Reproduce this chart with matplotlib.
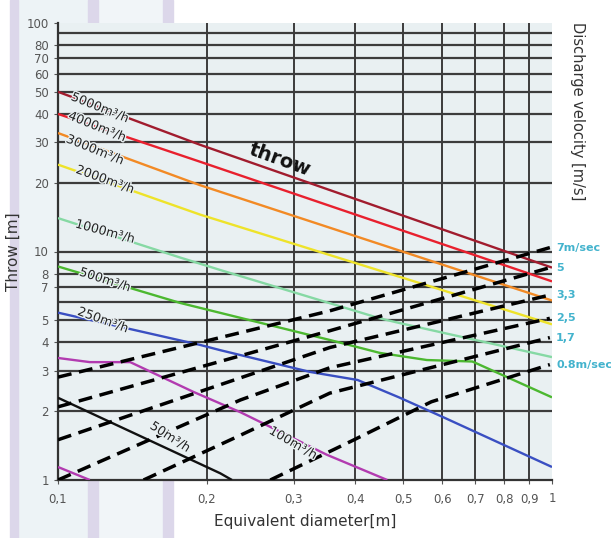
import matplotlib
matplotlib.use("Agg")
import matplotlib.pyplot as plt
import matplotlib.patheffects as pe
from matplotlib.patches import Rectangle

# --- données ---
# courbes de portée (débit en m3/h)
d_5000 = [0.1, 0.194, 1.0]
t_5000 = [50, 29.3, 8.5]
d_4000 = [0.1, 0.194, 1.0]
t_4000 = [40, 24.7, 7.4]
d_3000 = [0.1, 0.194, 1.0]
t_3000 = [33, 19.5, 6.1]
d_2000 = [0.1, 0.194, 1.0]
t_2000 = [24, 14.5, 4.8]
d_1000 = [0.1, 0.177, 0.213, 0.448, 0.49, 1.0]
t_1000 = [14, 9.4, 8.3, 5.1, 4.87, 3.45]
d_500 = [0.1, 0.177, 0.355, 0.448, 0.558, 0.69, 1.0]
t_500 = [8.6, 5.95, 4.1, 3.6, 3.35, 3.3, 2.3]
d_250 = [0.1, 0.194, 0.213, 0.324, 0.404, 0.49, 0.6, 1.0]
t_250 = [5.4, 3.9, 3.7, 2.97, 2.74, 2.3, 1.89, 1.14]
d_100 = [0.1, 0.116, 0.14, 0.188, 0.234, 0.256, 0.35, 0.464]
t_100 = [3.42, 3.28, 3.28, 2.43, 1.98, 1.8, 1.29, 1.0]
d_50 = [0.1, 0.213, 0.225]
t_50 = [2.29, 1.07, 1.0]
d_low = [0.1, 0.116]
t_low = [1.14, 1.0]

# vitesses de soufflage (tirets)
d_v7 = [0.1, 0.355, 0.99]
t_v7 = [2.82, 5.5, 10.4]
d_v5 = [0.1, 0.355, 0.99]
t_v5 = [2.09, 4.5, 8.5]
d_v33 = [0.1, 0.355, 0.99]
t_v33 = [1.5, 3.8, 6.45]
d_v25 = [0.1, 0.234, 0.355, 0.99]
t_v25 = [1.0, 2.24, 3.1, 5.1]
d_v17 = [0.149, 0.234, 0.355, 0.99]
t_v17 = [1.0, 1.57, 2.4, 4.2]
d_v08 = [0.269, 0.39, 0.57, 0.99]
t_v08 = [1.0, 1.47, 2.2, 3.2]

velocity_labels = ["7m/sec", "5", "3,3", "2,5", "1,7", "0.8m/sec"]

x_ticks = [0.1, 0.2, 0.3, 0.4, 0.5, 0.6, 0.7, 0.8, 0.9, 1.0]
x_ticklabels = ["0,1", "0,2", "0,3", "0,4", "0,5", "0,6", "0,7", "0,8", "0,9", "1"]
x_grid = [0.2, 0.3, 0.4, 0.5, 0.6, 0.7, 0.8, 0.9]
y_ticks = [1, 2, 3, 4, 5, 7, 8, 10, 20, 30, 40, 50, 60, 70, 80, 100]
y_grid = [2, 3, 4, 5, 6, 7, 8, 9, 10, 20, 30, 40, 50, 60, 70, 80, 90]

# --- figure ---
fig = plt.figure(figsize=(6.11, 5.38), dpi=100)
W, H = 611, 538

# fond décoratif à gauche
def px_rect(x0, x1, color):
    fig.patches.append(Rectangle((x0 / W, 0), (x1 - x0) / W, 1,
                                 transform=fig.transFigure, color=color,
                                 zorder=-5))

px_rect(18, 88, "#edf3f6")
px_rect(98, 163, "#f1f5f8")
px_rect(10, 18, "#dcd7ea")
px_rect(88, 98, "#dcd7ea")
px_rect(163, 173, "#dcd7ea")

ax = fig.add_axes([58 / W, 58 / H, 494 / W, 457 / H])
ax.set_zorder(2)
ax.set_facecolor("#e9f0f2")
ax.set_xscale("log")
ax.set_yscale("log")
ax.set_xlim(0.1, 1.0)
ax.set_ylim(1, 100)

for v in x_grid:
    ax.axvline(v, color="#3c3c3c", lw=1.4, zorder=1)
for v in y_grid:
    ax.axhline(v, color="#3c3c3c", lw=1.6, zorder=1)

ax.xaxis.set_minor_locator(matplotlib.ticker.NullLocator())
ax.yaxis.set_minor_locator(matplotlib.ticker.NullLocator())
ax.set_xticks(x_ticks)
ax.set_xticklabels(x_ticklabels)
ax.set_yticks(y_ticks)
ax.set_yticklabels([str(v) for v in y_ticks])
ax.tick_params(axis="both", length=3, color="#555555", labelsize=8.5,
               labelcolor="#555555")
ax.tick_params(axis="x", pad=6)

for side in ["top", "right"]:
    ax.spines[side].set_visible(False)
ax.spines["left"].set_color("#333333")
ax.spines["left"].set_linewidth(1.6)
ax.spines["bottom"].set_color("#333333")
ax.spines["bottom"].set_linewidth(1.6)

# courbes de débit
curves = [
    (d_5000, t_5000, "#a11c2e"),
    (d_4000, t_4000, "#e8202e"),
    (d_3000, t_3000, "#f28a25"),
    (d_2000, t_2000, "#eee32a"),
    (d_1000, t_1000, "#86d9a4"),
    (d_500, t_500, "#4cb830"),
    (d_250, t_250, "#3a4fc2"),
    (d_100, t_100, "#b23bb0"),
    (d_50, t_50, "#111111"),
    (d_low, t_low, "#b23bb0"),
]
for d, t, c in curves:
    ax.plot(d, t, color=c, lw=1.7, zorder=3, solid_capstyle="butt")

# lignes de vitesse
vel = [(d_v7, t_v7), (d_v5, t_v5), (d_v33, t_v33),
       (d_v25, t_v25), (d_v17, t_v17), (d_v08, t_v08)]
for d, t in vel:
    ax.plot(d, t, color="black", lw=2.5, ls=(0, (4, 2.2)), zorder=4,
            dash_capstyle="butt")

for (d, t), lab in zip(vel, velocity_labels):
    ax.annotate(lab, xy=(1.0, t[-1]), xytext=(3, 0), textcoords="offset points",
                ha="left", va="center", fontsize=8, fontweight="bold",
                color="#43b3cd", annotation_clip=False)

# étiquettes le long des courbes
halo = [pe.withStroke(linewidth=2, foreground="#e9f0f2")]
labels = [
    ("5000m³/h", 0.1216, 42.5, -22),
    ("4000m³/h", 0.120, 35.1, -22),
    ("3000m³/h", 0.1188, 27.8, -22),
    ("2000m³/h", 0.1245, 20.6, -20),
    ("1000m³/h", 0.1245, 12.2, -15),
    ("500m³/h", 0.1245, 7.5, -18),
    ("250m³/h", 0.1233, 5.0, -20),
    ("50m³/h", 0.1686, 1.54, -33),
    ("100m³/h", 0.299, 1.45, -30),
]
for txt, x, y, rot in labels:
    ax.text(x, y, txt, fontsize=9, color="#222222", rotation=rot,
            ha="center", va="center", zorder=5, path_effects=halo)

ax.text(0.2813, 25.1, "throw", fontsize=14, fontweight="bold", color="#111111",
        rotation=-20, ha="center", va="center", zorder=5)

ax.set_xlabel("Equivalent diameter[m]", fontsize=11, color="#333333", labelpad=6)
ax.set_ylabel("Throw [m]", fontsize=11, color="#333333", labelpad=4)

fig.text(577 / W, 1 - 22 / H, "Discharge velocity [m/s]", rotation=-90,
         ha="center", va="top", fontsize=10.5, color="#333333")

fig.savefig("out.png", dpi=100)
